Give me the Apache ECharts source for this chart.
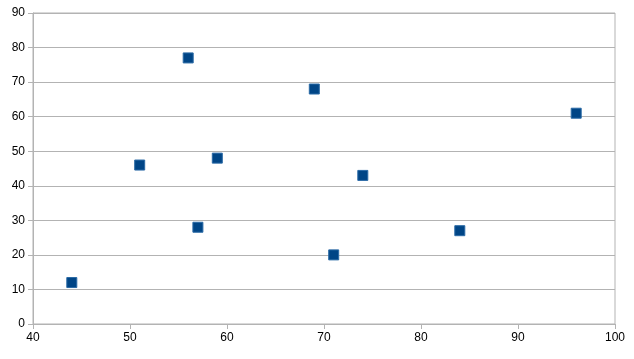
<!DOCTYPE html>
<html><head><meta charset="utf-8">
<script src="https://cdn.jsdelivr.net/npm/echarts@6/dist/echarts.min.js"></script>
<style>html,body{margin:0;padding:0;background:#fff}#c{width:634px;height:359px}</style>
</head><body><div id="c"></div>
<script>
const xValues = [44, 51, 56, 57, 59, 69, 71, 74, 84, 96];
const yValues = [12, 46, 77, 28, 48, 68, 20, 43, 27, 61];
const points = xValues.map((x, i) => [x, yValues[i]]);
const chart = echarts.init(document.getElementById('c'), null, {renderer: 'canvas'});
const axisFont = {color: '#000', fontFamily: 'Liberation Sans', fontSize: 12};
chart.setOption({
  animation: false,
  backgroundColor: '#fff',
  grid: {left: 33, right: 19, top: 13, bottom: 35, show: true, borderColor: '#b3b3b3', borderWidth: 1, backgroundColor: 'transparent'},
  xAxis: {
    type: 'value', min: 40, max: 100, interval: 10,
    axisLine: {show: true, lineStyle: {color: '#b3b3b3'}},
    axisTick: {show: true, length: 5, lineStyle: {color: '#b3b3b3'}},
    splitLine: {show: false},
    axisLabel: Object.assign({margin: 8}, axisFont)
  },
  yAxis: {
    type: 'value', min: 0, max: 90, interval: 10,
    axisLine: {show: true, lineStyle: {color: '#b3b3b3'}},
    axisTick: {show: true, length: 5, lineStyle: {color: '#b3b3b3'}},
    splitLine: {show: true, lineStyle: {color: '#b3b3b3'}},
    axisLabel: Object.assign({margin: 8}, axisFont)
  },
  series: [{
    type: 'scatter', data: points, symbol: 'rect', symbolSize: 10,
    itemStyle: {color: '#004586', opacity: 1, borderColor: '#2a6aa6', borderWidth: 1}
  }]
});
</script></body></html>
